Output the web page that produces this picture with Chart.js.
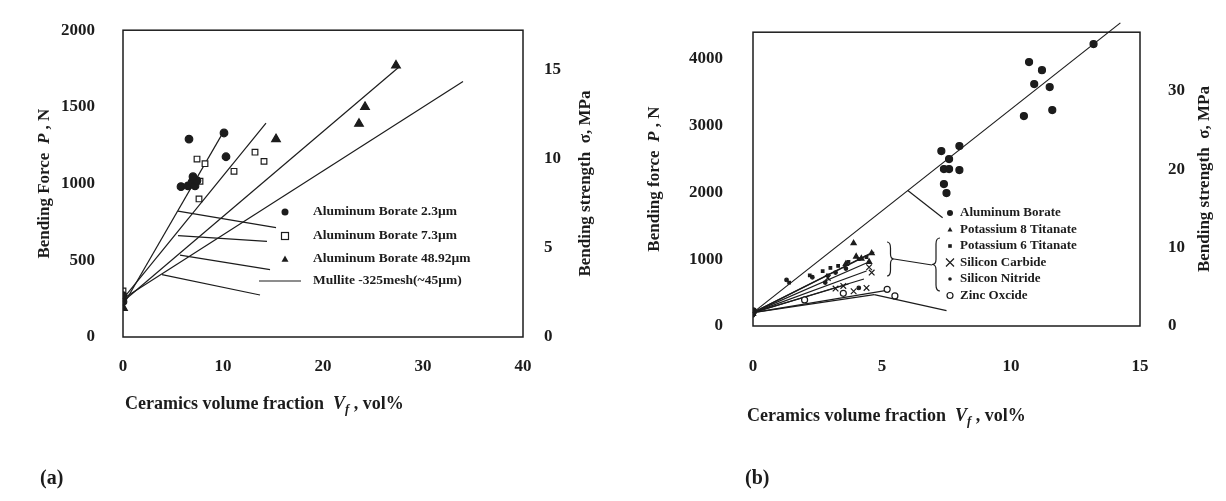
<!DOCTYPE html>
<html>
<head>
<meta charset="utf-8">
<script src="https://cdn.jsdelivr.net/npm/chart.js@4.4.1/dist/chart.umd.min.js"></script>
<style>
  body { margin: 0; background: #fff; width: 1226px; height: 501px; overflow: hidden; position: relative; }
  canvas { position: absolute; top: 0; }
  #chartA { left: 0; }
  #chartB { left: 613px; }
  .panel { position: absolute; font: bold 20px "Liberation Serif", serif; color: #1c1c1c; }
</style>
</head>
<body>
<canvas id="chartA" width="613" height="501"></canvas>
<canvas id="chartB" width="613" height="501"></canvas>
<div class="panel" style="left:40px; top:466px">(a)</div>
<div class="panel" style="left:745px; top:466px">(b)</div>
<script>
const FONT = '"Liberation Serif", "DejaVu Serif", serif';
const INK = '#1c1c1c';

// ---- panel (a) data ----
const ab23X = [0, 0, 5.8, 6.5, 6.9, 7.2, 7.4, 7.0, 6.6, 10.3, 10.1];
const ab23Y = [230, 270, 980, 985, 1010, 985, 1020, 1045, 1290, 1175, 1330];
const ab73X = [0, 7.6, 7.7, 7.4, 8.2, 11.1, 13.2, 14.1];
const ab73Y = [300, 900, 1015, 1160, 1130, 1080, 1205, 1145];
const ab489X = [0, 15.3, 23.6, 24.2, 27.3];
const ab489Y = [190, 1290, 1390, 1500, 1770];
const fitAX = [[0, 10.1], [0, 14.3], [0, 27.6], [0, 34]];
const fitAY = [[205, 1344], [248, 1394], [231, 1760], [250, 1665]];
const leadAX = [[5.5, 15.3], [5.5, 14.4], [5.7, 14.7], [3.9, 13.7]];
const leadAY = [[820, 713], [661, 623], [534, 439], [407, 274]];
const legendA = ['Aluminum Borate 2.3\u00b5m', 'Aluminum Borate 7.3\u00b5m', 'Aluminum Borate 48.92\u00b5m', 'Mullite -325mesh(~45\u00b5m)'];
const ticksAX = [0, 10, 20, 30, 40];
const ticksAP = [0, 500, 1000, 1500, 2000];
const ticksAS = [0, 5, 10, 15];

// ---- panel (b) data ----
const alBorX = [0, 7.3, 8.0, 7.6, 7.4, 7.6, 8.0, 7.4, 7.5, 10.5, 10.7, 11.2, 10.9, 11.5, 11.6, 13.2];
const alBorY = [220, 2620, 2695, 2500, 2350, 2350, 2335, 2126, 1991, 3144, 3952, 3832, 3623, 3578, 3234, 4222];
const k8X = [0, 3.9, 4.6, 4.2, 4.5, 3.6, 4.0];
const k8Y = [180, 1240, 1090, 1010, 960, 930, 1040];
const k6X = [0, 1.4, 2.2, 2.7, 2.9, 3.0, 3.3, 3.7, 4.1, 4.4];
const k6Y = [240, 650, 760, 820, 760, 870, 900, 960, 1000, 1030];
const sicX = [0, 2.9, 3.2, 3.5, 3.9, 4.4, 4.6, 4.5];
const sicY = [200, 720, 560, 600, 520, 570, 800, 880];
const sinX = [0, 1.3, 2.3, 2.8, 3.2, 4.1, 3.6];
const sinY = [160, 690, 730, 650, 800, 570, 860];
const znoX = [0, 2.0, 3.5, 5.2, 5.5];
const znoY = [210, 390, 490, 550, 450];
const fitBX = [[0, 14.24], [0, 4.7], [0, 4.5], [0, 4.4], [0, 4.4], [0, 4.3], [0, 3.7], [0, 5.3], [0, 4.7]];
const fitBY = [[200, 4540], [200, 1108], [200, 1078], [200, 944], [200, 824], [200, 704], [200, 629], [200, 540], [200, 470]];
const leadBX = [[6.0, 7.35], [4.7, 7.5]];
const leadBY = [[2030, 1620], [470, 230]];
const legendB = ['Aluminum Borate', 'Potassium 8 Titanate', 'Potassium 6 Titanate', 'Silicon Carbide', 'Silicon Nitride', 'Zinc Oxcide'];
const ticksBX = [0, 5, 10, 15];
const ticksBP = [0, 1000, 2000, 3000, 4000];
const ticksBS = [0, 10, 20, 30];

function pts(xs, ys) {
    return xs.map((x, i) => ({ x: x, y: ys[i] }));
}

function markers(label, xs, ys, style, r, filled) {
    return {
        label: label, data: pts(xs, ys), pointStyle: style, pointRadius: r,
        backgroundColor: filled ? INK : '#fff', borderColor: INK, borderWidth: 1.2
    };
}

function lines(xsList, ysList, width) {
    return xsList.map((xs, i) => ({
        data: pts(xs, ysList[i]), showLine: true, pointRadius: 0,
        borderColor: INK, borderWidth: width, clip: false
    }));
}

// hand drawn marker for the text legends
function mark(ctx, style, x, y, r) {
    ctx.save();
    ctx.fillStyle = INK; ctx.strokeStyle = INK; ctx.lineWidth = 1.2;
    ctx.beginPath();
    if (style === 'circle') { ctx.arc(x, y, r, 0, Math.PI * 2); ctx.fill(); }
    else if (style === 'ring') { ctx.arc(x, y, r, 0, Math.PI * 2); ctx.stroke(); }
    else if (style === 'rect') { ctx.strokeRect(x - r, y - r, 2 * r, 2 * r); }
    else if (style === 'dot') { ctx.fillRect(x - r, y - r, 2 * r, 2 * r); }
    else if (style === 'triangle') {
        ctx.moveTo(x, y - r); ctx.lineTo(x + r, y + r * 0.8); ctx.lineTo(x - r, y + r * 0.8);
        ctx.closePath(); ctx.fill();
    } else if (style === 'cross') {
        ctx.moveTo(x - r, y - r); ctx.lineTo(x + r, y + r);
        ctx.moveTo(x + r, y - r); ctx.lineTo(x - r, y + r); ctx.stroke();
    } else if (style === 'line') {
        ctx.moveTo(x - 21, y); ctx.lineTo(x + 21, y); ctx.stroke();
    }
    ctx.restore();
}

// mixed-style text: parts are [text, italic, subscript]; align 'center' or 'left'
function rich(ctx, parts, x, y, angle, size, align) {
    ctx.save();
    ctx.translate(x, y);
    ctx.rotate(angle);
    ctx.fillStyle = INK;
    ctx.textBaseline = 'middle';
    const fontOf = p => (p[1] ? 'italic ' : '') + 'bold ' + (p[2] ? size * 0.7 : size) + 'px ' + FONT;
    let w = 0;
    parts.forEach(p => { ctx.font = fontOf(p); w += ctx.measureText(p[0]).width; });
    let cx = align === 'left' ? 0 : -w / 2;
    parts.forEach(p => {
        ctx.font = fontOf(p);
        ctx.fillText(p[0], cx, p[2] ? size * 0.3 : 0);
        cx += ctx.measureText(p[0]).width;
    });
    ctx.restore();
}

function brace(ctx, x, y1, y2, w, dir) {
    const m = (y1 + y2) / 2, h = x + dir * w / 2;
    ctx.beginPath();
    ctx.moveTo(x, y1);
    ctx.quadraticCurveTo(h, y1, h, y1 + 6);
    ctx.lineTo(h, m - 5);
    ctx.quadraticCurveTo(h, m, x + dir * w, m);
    ctx.quadraticCurveTo(h, m, h, m + 5);
    ctx.lineTo(h, y2 - 6);
    ctx.quadraticCurveTo(h, y2, x, y2);
    ctx.stroke();
}

const tickFont = { family: FONT, weight: 'bold', size: 17 };
const xTitle = [['Ceramics volume fraction  ', false, false], ['V', true, false], ['f', true, true], [' , vol%', false, false]];
const plain = v => String(v);

function axes(xMax, pMax, sMax, tX, tP, tS, area, canvasW, canvasH, pads) {
    const fixed = list => s => { s.ticks = list.map(v => ({ value: v })); };
    return {
        x: {
            type: 'linear', min: 0, max: xMax, afterBuildTicks: fixed(tX),
            afterFit: s => { s.height = canvasH - area.bottom; },
            grid: { display: false }, border: { display: false },
            ticks: { font: tickFont, color: INK, padding: pads.x, maxRotation: 0, callback: plain }
        },
        y: {
            type: 'linear', position: 'left', min: 0, max: pMax, afterBuildTicks: fixed(tP),
            afterFit: s => { s.width = area.left; },
            grid: { display: false }, border: { display: false },
            ticks: { font: tickFont, color: INK, padding: pads.left, callback: plain }
        },
        y2: {
            type: 'linear', position: 'right', min: 0, max: sMax, afterBuildTicks: fixed(tS),
            afterFit: s => { s.width = canvasW - area.right; },
            grid: { display: false }, border: { display: false },
            ticks: { font: tickFont, color: INK, padding: pads.right, callback: plain }
        }
    };
}

const boxPlugin = {
    id: 'box',
    afterDatasetsDraw(chart) {
        const a = chart.chartArea, ctx = chart.ctx;
        ctx.save();
        ctx.strokeStyle = INK; ctx.lineWidth = 1.5;
        ctx.strokeRect(a.left, a.top, a.right - a.left, a.bottom - a.top);
        ctx.restore();
    }
};

// ---- panel (a) ----
const areaA = { left: 123, right: 523, top: 25, bottom: 337 };
new Chart(document.getElementById('chartA'), {
    type: 'scatter',
    data: {
        datasets: [
            markers(legendA[0], ab23X, ab23Y, 'circle', 3.8, true),
            markers(legendA[1], ab73X, ab73Y, 'rect', 4, false),
            markers(legendA[2], ab489X, ab489Y, 'triangle', 5, true),
            ...lines(fitAX, fitAY, 1.2),
            ...lines(leadAX, leadAY, 1.2)
        ]
    },
    options: {
        responsive: false, animation: false, devicePixelRatio: 1,
        layout: { padding: { top: areaA.top, left: 0, right: 0, bottom: 0 } },
        plugins: { legend: { display: false }, tooltip: { enabled: false } },
        scales: axes(40, 2000, 17.2, ticksAX, ticksAP, ticksAS, areaA, 613, 501, { x: 11, left: 20, right: 13 })
    },
    plugins: [boxPlugin, {
        id: 'textA',
        afterDraw(chart) {
            const ctx = chart.ctx, a = chart.chartArea;
            const mid = (a.top + a.bottom) / 2;
            rich(ctx, [['Bending Force  ', false, false], ['P', true, false], [' , N', false, false]], 45, mid, -Math.PI / 2, 17);
            rich(ctx, [['Bending strength  \u03c3, MPa', false, false]], 586, mid, -Math.PI / 2, 17);
            rich(ctx, xTitle, 125, 404, 0, 18, 'left');
            const styles = ['circle', 'rect', 'triangle', 'line'];
            const rows = [212, 236, 259, 281];
            ctx.font = 'bold 13.5px ' + FONT;
            ctx.fillStyle = INK; ctx.textBaseline = 'middle';
            legendA.forEach((t, i) => {
                const mx = styles[i] === 'line' ? 280 : 285;
                mark(ctx, styles[i], mx, rows[i], 3.5);
                ctx.fillText(t, 313, rows[i]);
            });
        }
    }]
});

// ---- panel (b) ----
const areaB = { left: 140, right: 527, top: 31, bottom: 326 };
new Chart(document.getElementById('chartB'), {
    type: 'scatter',
    data: {
        datasets: [
            markers(legendB[0], alBorX, alBorY, 'circle', 3.5, true),
            markers(legendB[1], k8X, k8Y, 'triangle', 3, true),
            markers(legendB[2], k6X, k6Y, 'rect', 1.8, true),
            markers(legendB[3], sicX, sicY, 'crossRot', 4, true),
            markers(legendB[4], sinX, sinY, 'circle', 1.8, true),
            markers(legendB[5], znoX, znoY, 'circle', 3, false),
            ...lines(fitBX, fitBY, 1.2),
            ...lines(leadBX, leadBY, 1.2)
        ]
    },
    options: {
        responsive: false, animation: false, devicePixelRatio: 1,
        layout: { padding: { top: areaB.top, left: 0, right: 0, bottom: 0 } },
        plugins: { legend: { display: false }, tooltip: { enabled: false } },
        scales: axes(15, 4400, 37.5, ticksBX, ticksBP, ticksBS, areaB, 613, 501, { x: 22, left: 22, right: 20 })
    },
    plugins: [boxPlugin, {
        id: 'textB',
        afterDraw(chart) {
            const ctx = chart.ctx, a = chart.chartArea;
            const mid = (a.top + a.bottom) / 2;
            rich(ctx, [['Bending force  ', false, false], ['P', true, false], [' , N', false, false]], 42, mid, -Math.PI / 2, 17);
            rich(ctx, [['Bending strength  \u03c3, MPa', false, false]], 592, mid, -Math.PI / 2, 17);
            rich(ctx, xTitle, 134, 416, 0, 18, 'left');
            const styles = ['circle', 'triangle', 'dot', 'cross', 'circle', 'ring'];
            const sizes = [3, 2.5, 1.8, 4, 1.8, 3];
            ctx.font = 'bold 13px ' + FONT;
            legendB.forEach((t, i) => {
                const y = 213 + i * 16.5;
                mark(ctx, styles[i], 337, y, sizes[i]);
                ctx.fillStyle = INK; ctx.textBaseline = 'middle';
                ctx.fillText(t, 347, y);
            });
            ctx.save();
            ctx.strokeStyle = INK; ctx.lineWidth = 1.2;
            brace(ctx, 274, 242, 276, 7, 1);
            brace(ctx, 327, 238, 291, 8, -1);
            ctx.beginPath(); ctx.moveTo(281, 259); ctx.lineTo(319, 265); ctx.stroke();
            ctx.restore();
        }
    }]
});
</script>
</body>
</html>
